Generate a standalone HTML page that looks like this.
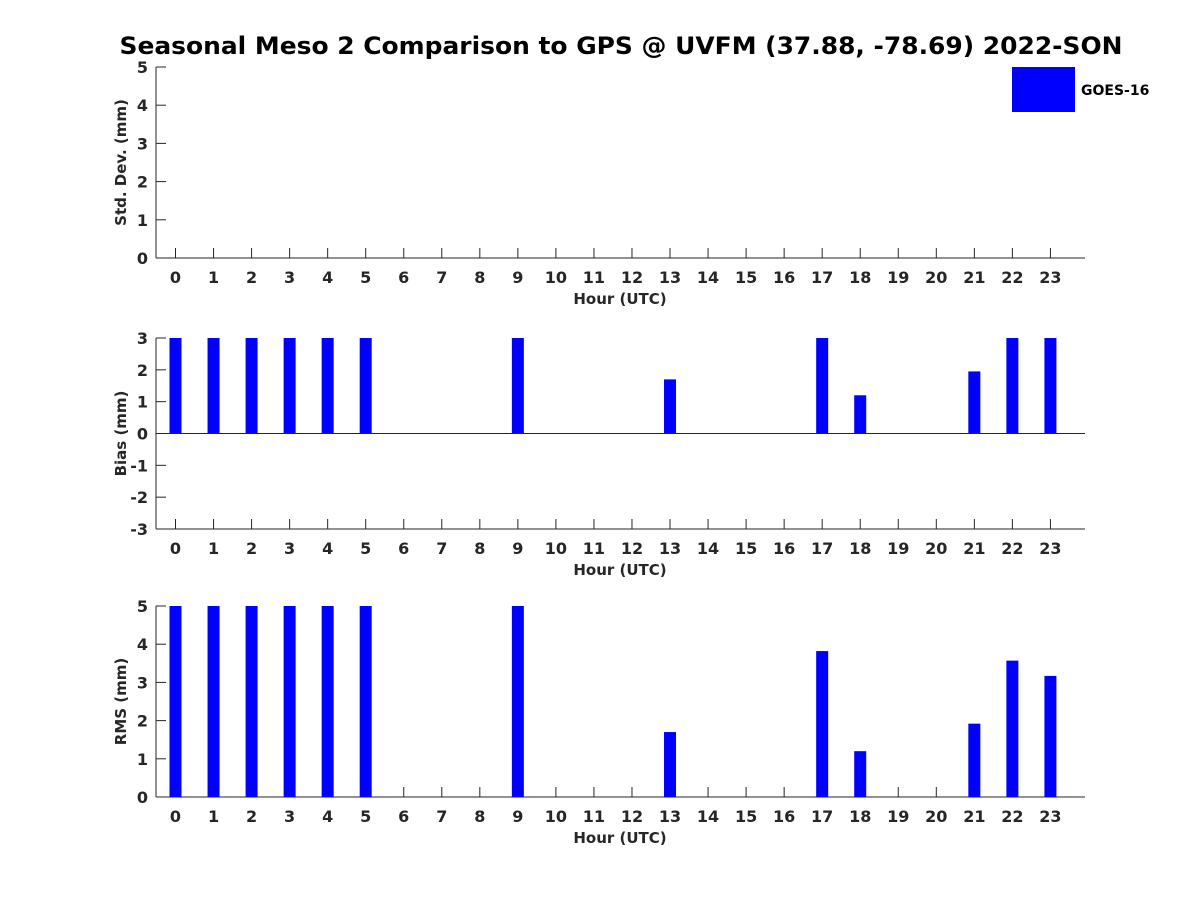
<!DOCTYPE html>
<html><head><meta charset="utf-8"><style>body{margin:0;background:#fff}svg{display:block}text{font-family:"DejaVu Sans","Liberation Sans",sans-serif;font-weight:bold;fill:#262626}</style></head><body>
<svg width="1200" height="900" viewBox="0 0 1200 900" xmlns="http://www.w3.org/2000/svg">
<rect width="1200" height="900" fill="#fff"/>
<text x="621" y="54" text-anchor="middle" font-size="24" textLength="1003" lengthAdjust="spacingAndGlyphs" style="fill:#000">Seasonal Meso 2 Comparison to GPS @ UVFM (37.88, -78.69) 2022-SON</text>
<g id="p"></g>
<rect x="1012" y="67" width="63" height="45" fill="#0000ff"/>
<text x="1081" y="95" font-size="14" style="fill:#000">GOES-16</text>
</svg>
<script>
const s=document.getElementById('p');let h='';
const X=i=>175.5+i*38.04;
function panel(top,bot,ymin,ymax,label,bars,base){
 const Y=v=>bot-(v-ymin)/(ymax-ymin)*(bot-top);
 h+=`<line x1="156" y1="${top}" x2="156" y2="${bot}" stroke="#262626"/><line x1="156" y1="${bot}" x2="1085" y2="${bot}" stroke="#262626"/>`;
 for(let v=ymin;v<=ymax;v++){const y=Y(v);h+=`<line x1="156" y1="${y}" x2="166" y2="${y}" stroke="#262626"/><text x="148" y="${y+6}" text-anchor="end" font-size="16">${v}</text>`;}
 for(let i=0;i<24;i++){h+=`<line x1="${X(i)}" y1="${bot}" x2="${X(i)}" y2="${bot-10}" stroke="#262626"/><text x="${X(i)}" y="${bot+25}" text-anchor="middle" font-size="16">${i}</text>`;}
 bars.forEach((v,i)=>{if(v==null)return;const y0=Y(base),y1=Y(v);h+=`<rect x="${X(i)-6}" y="${Math.min(y0,y1)}" width="12" height="${Math.abs(y1-y0)}" fill="#0000ff"/>`;});
 if(base>ymin)h+=`<line x1="156" y1="${Y(0)}" x2="1085" y2="${Y(0)}" stroke="#262626"/>`;
 h+=`<text x="620" y="${bot+46}" text-anchor="middle" font-size="15">Hour (UTC)</text>`;
 const cy=(top+bot)/2;h+=`<text transform="translate(126,${cy}) rotate(-90)" text-anchor="middle" font-size="15">${label}</text>`;
}
panel(67,258,0,5,'Std. Dev. (mm)',[],0);
const b=[3,3,3,3,3,3,null,null,null,3,null,null,null,1.7,null,null,null,3,1.2,null,null,1.95,3,3];
panel(338,529,-3,3,'Bias (mm)',b,0);
const r=[5,5,5,5,5,5,null,null,null,5,null,null,null,1.7,null,null,null,3.82,1.2,null,null,1.92,3.57,3.17];
panel(606,797,0,5,'RMS (mm)',r,0);
s.innerHTML=h;
</script>
</body></html>
